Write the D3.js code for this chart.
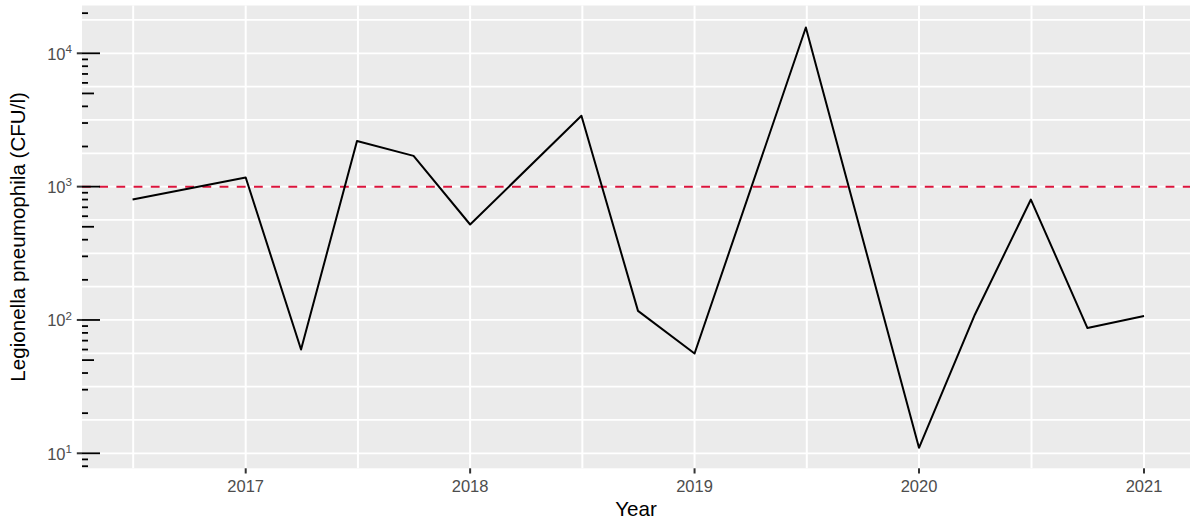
<!DOCTYPE html>
<html>
<head>
<meta charset="utf-8">
<script src="https://cdn.jsdelivr.net/npm/d3@7"></script>
<style>
  body { margin: 0; background: #fff; }
  svg { display: block; font-family: "Liberation Sans", Arial, sans-serif; }
</style>
</head>
<body>
<svg id="chart" width="1190" height="522"></svg>
<script>
// sampling dates (quarterly, with gaps) and Legionella counts
var sampleDates = ["2016-07-01", "2017-01-01", "2017-04-01", "2017-07-01", "2017-10-01",
                   "2018-01-01", "2018-07-01", "2018-10-01", "2019-01-01", "2019-07-01",
                   "2020-01-01", "2020-04-01", "2020-07-01", "2020-10-01", "2021-01-01"];
var cfuValues = [800, 1170, 60, 2200, 1700,
                 520, 3400, 117, 56, 15600,
                 11, 110, 800, 87, 107];
var yearTicks = [2017, 2018, 2019, 2020, 2021];
var yPowers = [1, 2, 3, 4];
var threshold = 1000;

var W = 1190, H = 522;
var panel = { left: 82, top: 5.5, bottom: 468.3, right: 1194.6 };

var svg = d3.select("#chart");
var data = sampleDates.map(function(d, i) {
  return { date: new Date(d + "T00:00:00Z"), value: cfuValues[i] };
});

// x: date scale with ggplot-style 5% expansion
var ext = d3.extent(data, function(d) { return d.date; });
var pad = (ext[1] - ext[0]) * 0.05;
var x = d3.scaleUtc()
  .domain([new Date(+ext[0] - pad), new Date(+ext[1] + pad)])
  .range([panel.left, panel.right]);

// y: log10 scale
var y = d3.scaleLog()
  .domain([Math.pow(10, 0.8875), Math.pow(10, 4.3585)])
  .range([panel.bottom, panel.top]);

// panel background
svg.append("rect")
  .attr("x", panel.left).attr("y", panel.top)
  .attr("width", W - panel.left).attr("height", panel.bottom - panel.top)
  .attr("fill", "#EBEBEB");

// horizontal grid every quarter decade
var yGrid = d3.range(4, 18).map(function(k) { return Math.pow(10, k / 4); })
  .filter(function(v) { return v >= y.domain()[0] && v <= y.domain()[1]; });
svg.append("g").selectAll("line").data(yGrid).enter().append("line")
  .attr("x1", panel.left).attr("x2", W)
  .attr("y1", function(d) { return y(d); }).attr("y2", function(d) { return y(d); })
  .attr("stroke", "#fff").attr("stroke-width", 1.7);

// vertical grid: years and half years
var yearDates = yearTicks.map(function(yr) { return new Date(Date.UTC(yr, 0, 1)); });
var allYears = [new Date(Date.UTC(yearTicks[0] - 1, 0, 1))].concat(yearDates)
  .concat([new Date(Date.UTC(yearTicks[yearTicks.length - 1] + 1, 0, 1))]);
var mids = [];
for (var i = 0; i < allYears.length - 1; i++) {
  mids.push(new Date((+allYears[i] + +allYears[i + 1]) / 2));
}
var xGrid = yearDates.concat(mids).filter(function(d) {
  return d >= x.domain()[0] && d <= x.domain()[1];
});
svg.append("g").selectAll("line").data(xGrid).enter().append("line")
  .attr("x1", function(d) { return x(d); }).attr("x2", function(d) { return x(d); })
  .attr("y1", panel.top).attr("y2", panel.bottom)
  .attr("stroke", "#fff").attr("stroke-width", 2);

// threshold line
svg.append("line")
  .attr("x1", panel.left).attr("x2", W)
  .attr("y1", y(threshold)).attr("y2", y(threshold))
  .attr("stroke", "#DC143C").attr("stroke-width", 2)
  .attr("stroke-dasharray", "8.8,8.4");

// data line
var line = d3.line()
  .x(function(d) { return x(d.date); })
  .y(function(d) { return y(d.value); });
svg.append("path")
  .datum(data)
  .attr("d", line)
  .attr("fill", "none")
  .attr("stroke", "#000")
  .attr("stroke-width", 2)
  .attr("stroke-linejoin", "round");

// log ticks on the left side of the panel
var logTicks = [];
for (var p = 0; p <= 5; p++) {
  for (var m = 1; m <= 9; m++) {
    var v = m * Math.pow(10, p);
    if (v >= y.domain()[0] && v <= y.domain()[1]) logTicks.push({ v: v, m: m });
  }
}
svg.append("g").selectAll("line").data(logTicks).enter().append("line")
  .attr("x1", panel.left)
  .attr("x2", function(d) { return panel.left + (d.m === 1 ? 18 : d.m === 5 ? 12 : 6); })
  .attr("y1", function(d) { return y(d.v); }).attr("y2", function(d) { return y(d.v); })
  .attr("stroke", "#000").attr("stroke-width", 1.8);

// y axis ticks and labels (10^k)
var yAx = svg.append("g");
yAx.selectAll("line").data(yPowers).enter().append("line")
  .attr("x1", panel.left - 5.2).attr("x2", panel.left)
  .attr("y1", function(k) { return y(Math.pow(10, k)); })
  .attr("y2", function(k) { return y(Math.pow(10, k)); })
  .attr("stroke", "#333").attr("stroke-width", 2);
var lab = yAx.selectAll("text").data(yPowers).enter().append("text")
  .attr("x", 72)
  .attr("y", function(k) { return y(Math.pow(10, k)) + 6.4; })
  .attr("text-anchor", "end")
  .attr("fill", "#4D4D4D")
  .style("font-size", "16.5px");
lab.append("tspan").text("10");
lab.append("tspan")
  .attr("dy", -6.8)
  .style("font-size", "11.6px")
  .text(function(k) { return k; });

// x axis ticks and labels
var xAx = svg.append("g");
xAx.selectAll("line").data(yearDates).enter().append("line")
  .attr("x1", function(d) { return x(d); }).attr("x2", function(d) { return x(d); })
  .attr("y1", panel.bottom).attr("y2", panel.bottom + 5.2)
  .attr("stroke", "#333").attr("stroke-width", 2);
xAx.selectAll("text").data(yearDates).enter().append("text")
  .attr("x", function(d) { return x(d); })
  .attr("y", 492)
  .attr("text-anchor", "middle")
  .attr("fill", "#4D4D4D")
  .style("font-size", "16.5px")
  .text(function(d) { return d3.utcFormat("%Y")(d); });

// axis titles
svg.append("text")
  .attr("x", (panel.left + W) / 2)
  .attr("y", 516)
  .attr("text-anchor", "middle")
  .attr("fill", "#000")
  .style("font-size", "20.6px")
  .text("Year");
svg.append("text")
  .attr("transform", "translate(25," + ((panel.top + panel.bottom) / 2) + ") rotate(-90)")
  .attr("text-anchor", "middle")
  .attr("fill", "#000")
  .style("font-size", "20.6px")
  .text("Legionella pneumophila (CFU/l)");
</script>
</body>
</html>
